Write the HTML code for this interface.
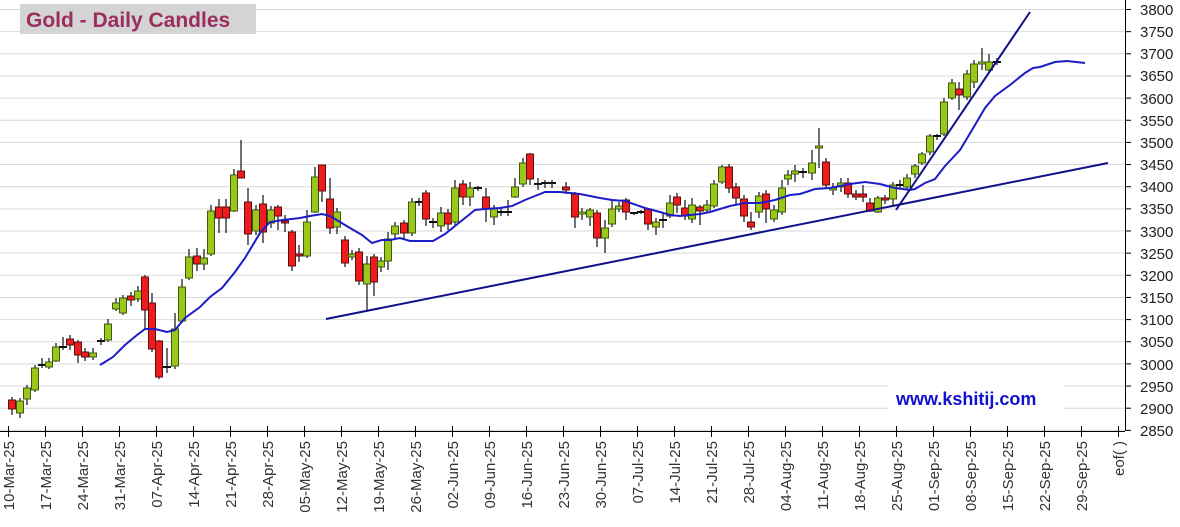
<!DOCTYPE html>
<html><head><meta charset="utf-8"><style>
html,body{margin:0;padding:0;background:#fff;}
svg{display:block;font-family:"Liberation Sans",Arial,sans-serif;}
</style></head><body>
<svg id="s" width="1180" height="527" viewBox="0 0 1180 527" xmlns="http://www.w3.org/2000/svg">
<g id="grid" stroke="#d9d9d9" stroke-width="1"></g>
<line x1="1125.5" y1="0" x2="1125.5" y2="431" stroke="#000"/>
<line x1="0" y1="431.5" x2="1125" y2="431.5" stroke="#000"/>
<g id="yt" font-size="15" fill="#222">
<text x="1140" y="15">3800</text><text x="1140" y="37">3750</text><text x="1140" y="59">3700</text><text x="1140" y="81">3650</text><text x="1140" y="104">3600</text><text x="1140" y="126">3550</text><text x="1140" y="148">3500</text><text x="1140" y="170">3450</text><text x="1140" y="192">3400</text><text x="1140" y="214">3350</text><text x="1140" y="237">3300</text><text x="1140" y="259">3250</text><text x="1140" y="281">3200</text><text x="1140" y="303">3150</text><text x="1140" y="325">3100</text><text x="1140" y="347">3050</text><text x="1140" y="370">3000</text><text x="1140" y="392">2950</text><text x="1140" y="414">2900</text><text x="1140" y="436">2850</text>
</g>
<g id="ticks" stroke="#000"></g>
<g id="xl" font-size="15" fill="#333" text-anchor="end"></g>
<g id="c"></g>
<polyline fill="none" stroke="#1c1cc8" stroke-width="2" points="100,365 113,357 125,345 137,335 145,329 155,329 167,332 175,330 185,318 200,307 210,297 222,288 235,272 245,258 260,233 270,222 283,220 300,218 310,216 322,214 330,216 340,222 350,228 362,235 372,243 382,240 390,240 400,238 410,241 433,241 445,234 460,222 475,210 485,209 500,208 512,206 525,200 540,194 545,192 560,192 580,194 600,198 612,200 625,201 645,208 660,212 670,215 680,216 690,215 700,214 710,212 730,206 745,203 760,203 775,200 790,195 800,194 815,189 830,188 850,184 865,182 880,184 895,188 910,190 915,189 925,183 935,179 945,166 960,150 975,125 985,108 995,96 1010,85 1025,73 1033,68 1040,67 1055,62 1067,61 1085,63"/>
<line x1="326" y1="319" x2="1108" y2="163" stroke="#10108a" stroke-width="2"/>
<line x1="896" y1="210" x2="1030" y2="12" stroke="#10108a" stroke-width="2"/>
<rect x="20" y="4" width="236" height="30" fill="#d4d4d4"/>
<text x="26" y="27" font-size="21" font-weight="bold" fill="#9b2d5f">Gold - Daily Candles</text>
<rect x="888" y="385" width="176" height="26" fill="#fff"/>
<text x="896" y="405" font-size="18" font-weight="bold" fill="#1010d0">www.kshitij.com</text>
</svg>
<script>
var ns="http://www.w3.org/2000/svg";
function el(p,t,a,txt){var e=document.createElementNS(ns,t);for(var k in a)e.setAttribute(k,a[k]);if(txt)e.textContent=txt;document.getElementById(p).appendChild(e);return e;}
for(var i=0;i<20;i++){var y=9.5+i*22.15;el("grid","line",{x1:0,x2:1125,y1:y,y2:y});el("ticks","line",{x1:1125,x2:1131,y1:y,y2:y});}
var labs=["10-Mar-25","17-Mar-25","24-Mar-25","31-Mar-25","07-Apr-25","14-Apr-25","21-Apr-25","28-Apr-25","05-May-25","12-May-25","19-May-25","26-May-25","02-Jun-25","09-Jun-25","16-Jun-25","23-Jun-25","30-Jun-25","07-Jul-25","14-Jul-25","21-Jul-25","28-Jul-25","04-Aug-25","11-Aug-25","18-Aug-25","25-Aug-25","01-Sep-25","08-Sep-25","15-Sep-25","22-Sep-25","29-Sep-25","eof( )"];
for(var i=0;i<labs.length;i++){var x=8.5+i*37;el("ticks","line",{x1:x,x2:x,y1:426,y2:437});el("xl","text",{transform:"translate("+(x+5.5)+",441) rotate(-90)"},labs[i]);}
var C=[[12,400,409,'r',397,415],[20,401,413,'g',398,418],[27,388,399,'g',385,405],[35,368,390,'g',365,392],[42,365,366,'d',358,368],[49,362,367,'g',358,369],[56,347,361,'g',343,362],[63,347,348,'d',337,350],[70,339,345,'r',335,350],[78,342,355,'r',340,363],[85,352,357,'r',348,361],[93,353,357,'g',348,360],[101,341,342,'d',338,345],[108,324,340,'g',319,342],[116,303,309,'g',298,311],[123,298,313,'g',295,315],[131,296,300,'r',292,306],[138,291,299,'g',286,302],[145,277,310,'r',275,330],[152,303,349,'r',293,352],[159,341,377,'r',340,379],[167,367,369,'d',348,373],[175,329,366,'g',313,369],[182,287,321,'g',279,323],[189,257,278,'g',249,280],[197,256,264,'r',248,271],[204,258,264,'g',249,270],[211,211,254,'g',205,256],[219,207,218,'r',199,233],[226,207,218,'r',199,233],[234,175,211,'g',169,212],[241,171,178,'r',140,178],[248,202,234,'r',188,245],[256,210,231,'g',205,235],[263,204,232,'r',195,243],[271,210,223,'g',206,228],[278,207,216,'r',205,230],[285,221,223,'r',215,232],[292,232,266,'r',230,271],[299,254,256,'r',245,262],[307,222,256,'g',210,258],[315,177,212,'g',167,213],[322,165,191,'r',165,202],[330,199,228,'r',178,234],[337,212,227,'g',208,234],[345,240,263,'r',236,267],[352,254,257,'g',250,260],[359,252,281,'r',248,285],[367,264,284,'g',256,310],[374,257,282,'r',254,296],[381,261,267,'g',257,272],[388,239,261,'g',232,270],[395,226,234,'g',222,240],[404,223,233,'r',220,240],[412,202,233,'g',198,236],[419,202,203,'d',198,206],[426,193,219,'r',190,226],[433,222,223,'d',218,228],[441,213,226,'g',207,232],[448,213,224,'r',209,230],[455,188,222,'g',180,225],[463,184,197,'r',180,205],[470,188,197,'g',182,206],[478,188,189,'d',186,191],[486,197,209,'r',188,222],[494,208,217,'g',205,225],[501,212,213,'d',208,216],[508,212,213,'d',200,216],[515,187,197,'g',178,198],[523,163,184,'g',158,187],[530,154,179,'r',153,185],[538,184,185,'d',178,190],[545,183,184,'d',180,188],[552,183,184,'d',180,188],[566,187,190,'r',182,194],[575,194,217,'r',192,228],[582,212,214,'g',208,220],[590,210,217,'g',208,226],[597,213,238,'r',210,247],[605,228,238,'g',220,253],[612,209,224,'g',200,227],[619,206,209,'g',202,212],[626,200,212,'r',198,220],[634,213,214,'d',212,215],[641,212,213,'d',210,214],[648,209,224,'r',208,230],[656,222,227,'g',218,235],[663,220,221,'d',214,228],[670,203,216,'g',195,218],[677,197,205,'r',193,213],[685,208,216,'r',200,220],[692,205,219,'g',198,223],[700,207,211,'r',205,225],[707,205,210,'g',200,213],[714,184,206,'g',180,208],[722,167,182,'g',165,184],[729,167,188,'r',164,193],[736,187,198,'r',183,205],[744,199,216,'r',195,222],[751,222,227,'r',212,230],[759,196,212,'g',192,218],[766,194,209,'r',190,223],[774,210,219,'g',205,222],[782,188,212,'g',180,215],[788,175,179,'g',170,185],[795,171,174,'g',165,182],[803,172,173,'d',168,178],[812,163,173,'g',150,180],[819,146,148,'g',128,168],[826,162,185,'r',158,188],[833,188,190,'g',183,195],[841,183,187,'g',178,192],[848,183,194,'r',178,198],[856,194,197,'r',190,200],[863,194,197,'r',185,202],[870,203,211,'r',198,212],[878,198,212,'g',196,213],[885,198,200,'r',195,204],[893,185,199,'g',182,205],[900,185,186,'d',180,188],[907,178,187,'g',174,190],[915,166,174,'g',164,178],[922,154,163,'g',152,165],[930,136,152,'g',134,155],[937,136,137,'d',134,140],[944,102,134,'g',98,136],[952,83,98,'g',79,100],[959,89,95,'r',82,110],[967,74,97,'g',70,100],[974,64,82,'g',60,88],[982,62,64,'g',48,70],[989,62,70,'g',54,72],[997,62,63,'d',58,65]];
C.forEach(function(c){
 var x=c[0],col=c[3];
 el("c","line",{x1:x,x2:x,y1:c[4],y2:c[5],stroke:"#111","stroke-width":1.2});
 if(col==='d'){el("c","line",{x1:x-4,x2:x+4,y1:c[1],y2:c[1],stroke:"#111","stroke-width":2});}
 else el("c","rect",{x:x-3.5,y:c[1],width:7,height:Math.max(2,c[2]-c[1]),fill:col==='g'?"#99c81a":"#ee1c1c",stroke:col==='g'?"#3f5a10":"#5a1010","stroke-width":1});
});
</script>
</body></html>
